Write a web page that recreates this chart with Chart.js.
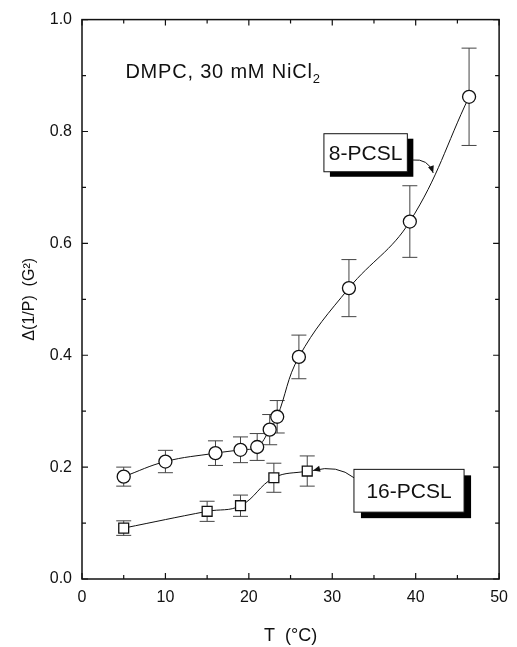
<!DOCTYPE html>
<html><head><meta charset="utf-8">
<script src="https://cdn.jsdelivr.net/npm/chart.js@4.4.1/dist/chart.umd.min.js"></script>
<style>html,body{margin:0;padding:0;background:#fff}</style>
</head><body>
<canvas id="c" width="517" height="647" style="width:517px;height:647px;display:block"></canvas>
<script>
// ---- data ----
const temps8 = [5, 10, 16, 19, 21, 22.5, 23.4, 26, 32, 39.3, 46.4];
const values8 = [0.183, 0.210, 0.225, 0.231, 0.236, 0.267, 0.290, 0.397, 0.520, 0.639, 0.862];
const errors8 = [0.017, 0.020, 0.022, 0.023, 0.024, 0.027, 0.029, 0.039, 0.051, 0.064, 0.087];

const temps16 = [5, 15, 19, 23, 27];
const values16 = [0.091, 0.121, 0.131, 0.181, 0.193];
const errors16 = [0.013, 0.018, 0.019, 0.026, 0.027];

const xTickLabels = [0, 10, 20, 30, 40, 50];
const yTickLabels = ['0.0', '0.2', '0.4', '0.6', '0.8', '1.0'];

const seriesNames = ['8-PCSL', '16-PCSL'];
const conditionText = 'DMPC, 30 mM NiCl';
const conditionSub = '2';
const xTitle = 'T  (\u00B0C)';
const yTitle = '\u0394(1/P)  (G\u00B2)';

const FONT = '"Liberation Sans", Arial, Helvetica, sans-serif';
const INK = '#111';

const toXY = (xs, ys) => xs.map((x, i) => ({x, y: ys[i]}));

// error bars, drawn before the datasets so the open markers cover them
const errorBars = {
  id: 'errorBars',
  beforeDatasetsDraw(chart) {
    const {ctx, scales: {x, y}} = chart;
    const sets = [[temps8, values8, errors8], [temps16, values16, errors16]];
    ctx.save();
    ctx.strokeStyle = '#444';
    ctx.lineWidth = 1;
    for (const [ts, vs, es] of sets) {
      ts.forEach((t, i) => {
        const px = x.getPixelForValue(t);
        const top = y.getPixelForValue(vs[i] + es[i]);
        const bot = y.getPixelForValue(vs[i] - es[i]);
        ctx.beginPath();
        ctx.moveTo(px, top); ctx.lineTo(px, bot);
        ctx.moveTo(px - 7.5, top); ctx.lineTo(px + 7.5, top);
        ctx.moveTo(px - 7.5, bot); ctx.lineTo(px + 7.5, bot);
        ctx.stroke();
      });
    }
    ctx.restore();
  }
};

// frame with inward ticks on all four sides
const frame = {
  id: 'frame',
  afterDraw(chart) {
    const {ctx, chartArea: a, scales: {x, y}} = chart;
    ctx.save();
    ctx.strokeStyle = INK;
    ctx.lineWidth = 1.5;
    ctx.strokeRect(a.left, a.top, a.right - a.left, a.bottom - a.top);
    ctx.lineWidth = 1.2;
    ctx.beginPath();
    for (let k = 0; k <= 10; k++) {
      const v = k * 5;
      const px = x.getPixelForValue(v);
      const len = k % 2 === 0 ? 6 : 4;
      ctx.moveTo(px, a.bottom); ctx.lineTo(px, a.bottom - len);
      ctx.moveTo(px, a.top); ctx.lineTo(px, a.top + len);
    }
    for (let k = 0; k <= 10; k++) {
      const v = k / 10;
      const py = y.getPixelForValue(v);
      const len = k % 2 === 0 ? 6 : 4;
      ctx.moveTo(a.left, py); ctx.lineTo(a.left + len, py);
      ctx.moveTo(a.right, py); ctx.lineTo(a.right - len, py);
    }
    ctx.stroke();
    ctx.restore();
  }
};

function arrowHead(ctx, x0, y0, x1, y1, len, wid) {
  const ang = Math.atan2(y1 - y0, x1 - x0);
  ctx.beginPath();
  ctx.moveTo(x1, y1);
  ctx.lineTo(x1 - len * Math.cos(ang) + wid * Math.sin(ang), y1 - len * Math.sin(ang) - wid * Math.cos(ang));
  ctx.lineTo(x1 - len * Math.cos(ang) - wid * Math.sin(ang), y1 - len * Math.sin(ang) + wid * Math.cos(ang));
  ctx.closePath();
  ctx.fill();
}

function labelBox(ctx, x, y, x0, y0, x1, y1, text, sx, sy) {
  const L = x.getPixelForValue(x0), R = x.getPixelForValue(x1);
  const T = y.getPixelForValue(y0), B = y.getPixelForValue(y1);
  ctx.fillStyle = '#000';
  ctx.fillRect(L + sx, T + sy, R - L, B - T);
  ctx.fillStyle = '#fff';
  ctx.fillRect(L, T, R - L, B - T);
  ctx.strokeStyle = INK;
  ctx.lineWidth = 1;
  ctx.strokeRect(L, T, R - L, B - T);
  ctx.fillStyle = INK;
  ctx.font = '21px ' + FONT;
  ctx.textAlign = 'center';
  ctx.textBaseline = 'middle';
  ctx.fillText(text, (L + R) / 2, (T + B) / 2 + 1);
}

const annotations = {
  id: 'annotations',
  afterDraw(chart) {
    const {ctx, scales: {x, y}} = chart;
    ctx.save();
    // condition text
    ctx.fillStyle = INK;
    ctx.font = '20px ' + FONT;
    ctx.textAlign = 'left';
    ctx.textBaseline = 'alphabetic';
    try { ctx.letterSpacing = '0.8px'; } catch (e) {}
    const tx = x.getPixelForValue(5.2), ty = y.getPixelForValue(0.896);
    ctx.fillText(conditionText, tx, ty);
    const w = ctx.measureText(conditionText).width;
    ctx.font = '13px ' + FONT;
    ctx.fillText(conditionSub, tx + w, ty + 5);
    try { ctx.letterSpacing = '0px'; } catch (e) {}

    // 8-PCSL box + arrow
    labelBox(ctx, x, y, 29.0, 0.796, 39.0, 0.728, seriesNames[0], 6, 5);
    ctx.strokeStyle = INK; ctx.fillStyle = INK; ctx.lineWidth = 1;
    let ax0 = x.getPixelForValue(39.6), ay0 = y.getPixelForValue(0.749);
    let cx = x.getPixelForValue(41.5), cy = y.getPixelForValue(0.752);
    let ax1 = x.getPixelForValue(42.1), ay1 = y.getPixelForValue(0.726);
    ctx.beginPath(); ctx.moveTo(ax0, ay0); ctx.quadraticCurveTo(cx, cy, ax1, ay1); ctx.stroke();
    arrowHead(ctx, cx, cy, ax1, ay1, 7, 3);

    // 16-PCSL box + arrow
    labelBox(ctx, x, y, 32.6, 0.196, 45.8, 0.1195, seriesNames[1], 7, 6);
    ax0 = x.getPixelForValue(32.6); ay0 = y.getPixelForValue(0.181);
    cx = x.getPixelForValue(30.6); cy = y.getPixelForValue(0.205);
    ax1 = x.getPixelForValue(27.7); ay1 = y.getPixelForValue(0.194);
    ctx.beginPath(); ctx.moveTo(ax0, ay0); ctx.quadraticCurveTo(cx, cy, ax1, ay1); ctx.stroke();
    arrowHead(ctx, cx, cy, ax1, ay1, 7, 3);
    ctx.restore();
  }
};

new Chart(document.getElementById('c'), {
  type: 'line',
  data: {
    datasets: [
      {
        label: seriesNames[0],
        data: toXY(temps8, values8),
        borderColor: INK, borderWidth: 1,
        tension: 0.4,
        pointStyle: 'circle', pointRadius: 6.5,
        pointBackgroundColor: '#fff', pointBorderColor: INK, pointBorderWidth: 1.3
      },
      {
        label: seriesNames[1],
        data: toXY(temps16, values16),
        borderColor: INK, borderWidth: 1,
        tension: 0.4,
        pointStyle: 'rect', pointRadius: 7,
        pointBackgroundColor: '#fff', pointBorderColor: INK, pointBorderWidth: 1.3
      }
    ]
  },
  options: {
    responsive: false,
    animation: false,
    devicePixelRatio: 1,
    layout: {padding: {top: 18, right: 10, left: 0, bottom: 0}},
    plugins: {legend: {display: false}, tooltip: {enabled: false}},
    scales: {
      x: {
        type: 'linear', min: 0, max: 50,
        grid: {display: false, drawTicks: false},
        border: {display: false},
        afterFit(s) { s.height = 68; },
        afterBuildTicks(s) { s.ticks = xTickLabels.map(v => ({value: v})); },
        ticks: {padding: 9, color: INK, font: {family: FONT, size: 16}, maxRotation: 0,
                callback: v => String(v)},
        title: {display: true, text: xTitle, color: INK, font: {family: FONT, size: 18},
                padding: {top: 0, bottom: 0}}
      },
      y: {
        type: 'linear', min: 0, max: 1,
        grid: {display: false, drawTicks: false},
        border: {display: false},
        afterFit(s) { s.width = 82; },
        afterBuildTicks(s) { s.ticks = yTickLabels.map(v => ({value: parseFloat(v)})); },
        ticks: {padding: 10, color: INK, font: {family: FONT, size: 16},
                callback: v => v.toFixed(1)},
        title: {display: true, text: yTitle, color: INK, font: {family: FONT, size: 16},
                padding: {top: 20, bottom: 0}}
      }
    }
  },
  plugins: [errorBars, frame, annotations]
});
</script>
</body></html>
